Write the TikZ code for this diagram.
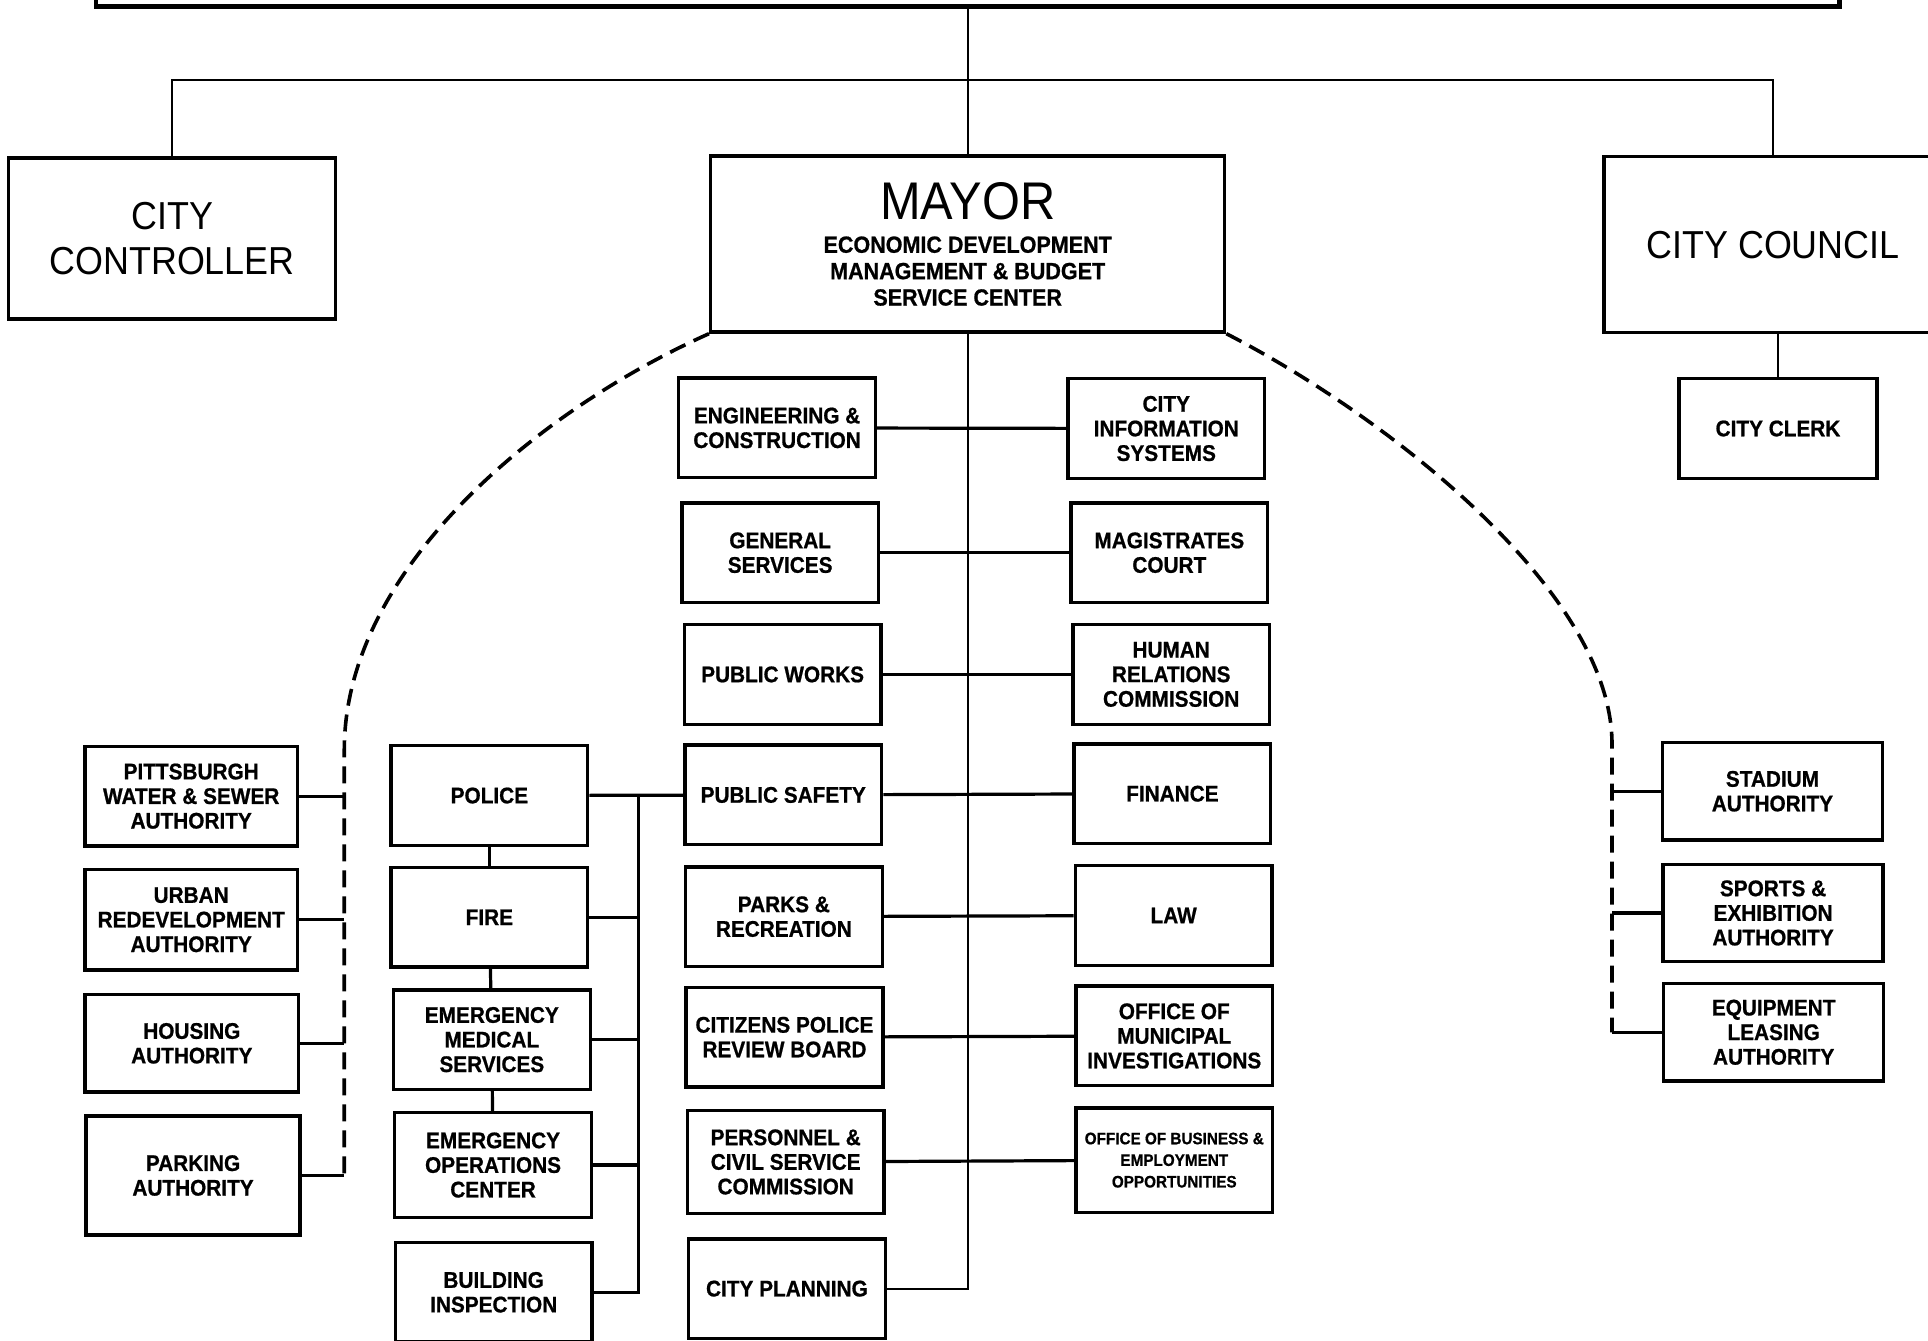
\documentclass[tikz,border=0pt]{standalone}
\usepackage{fontspec}
\setmainfont{Liberation Sans}[FakeStretch=0.92,BoldFeatures={FakeBold=0.8}]
\usetikzlibrary{positioning}
\def\px{0.6148pt}

\begin{document}
\begin{tikzpicture}[x=\px,y=-\px,
    unit/.style={draw,line width=1.7pt,align=center,inner sep=1pt,
      font=\bfseries\fontsize{11.3}{12.3}\selectfont,
      minimum width=160*\px,minimum height=81*\px},
    head/.style={draw,line width=1.7pt,align=center,
      font=\fontsize{19.5}{22.7}\selectfont},
    link/.style={line width=1.6pt},
    trunk/.style={line width=1.1pt},
    loose/.style={line width=1.8pt,dash pattern=on 8.5pt off 4.5pt}]
  \useasboundingbox (0,0) rectangle (1568,1090);

  \node[draw,line width=2.4pt,minimum width=1418*\px,minimum height=100*\px] (board) at (787,-45) {};
  \node[head,minimum width=266*\px,minimum height=131*\px] (ctrl) at (140,194) {CITY\\CONTROLLER};
  \node[head,minimum width=418*\px,minimum height=143*\px,
    font=\bfseries\fontsize{11.7}{13.2}\selectfont] (mayor) at (787,198.5)
    {{\mdseries\fontsize{26.5}{30}\selectfont MAYOR}\\[3.5pt]
     ECONOMIC DEVELOPMENT\\MANAGEMENT \& BUDGET\\SERVICE CENTER};
  \node[head,minimum width=275*\px,minimum height=143*\px] (council) at (1442,199) {CITY COUNCIL};
  \node[unit,minimum width=161*\px] (clerk) at (1446,348.5) {CITY CLERK};

  % departments under the mayor
  \node[unit] (eng) at (632,348) {ENGINEERING \&\\CONSTRUCTION};
  \node[unit] (gen) at (634.5,449.5) {GENERAL\\SERVICES};
  \node[unit] (works) at (636.5,548.5) {PUBLIC WORKS};
  \node[unit] (safety) at (637,646.5) {PUBLIC SAFETY};
  \node[unit] (parks) at (637.5,745.5) {PARKS \&\\RECREATION};
  \node[unit] (review) at (638,843.5) {CITIZENS POLICE\\REVIEW BOARD};
  \node[unit,minimum height=84*\px] (personnel) at (639,945) {PERSONNEL \&\\CIVIL SERVICE\\COMMISSION};
  \node[unit] (planning) at (640,1048) {CITY PLANNING};

  \node[unit] (cis) at (948.5,348.5) {CITY\\INFORMATION\\SYSTEMS};
  \node[unit] (court) at (951,449.5) {MAGISTRATES\\COURT};
  \node[unit] (human) at (952.5,548.5) {HUMAN\\RELATIONS\\COMMISSION};
  \node[unit] (finance) at (953.5,645.5) {FINANCE};
  \node[unit] (law) at (954.5,744.5) {LAW};
  \node[unit] (omi) at (955,842.5) {OFFICE OF\\MUNICIPAL\\INVESTIGATIONS};
  \node[unit,minimum height=85*\px,font=\bfseries\fontsize{8.3}{10.8}\selectfont] (obeo) at (955,943.5)
    {OFFICE OF BUSINESS \&\\EMPLOYMENT\\OPPORTUNITIES};

  % public safety bureaus
  \node[unit] (police) at (398,647) {POLICE};
  \node[unit] (fire) at (398,746) {FIRE};
  \node[unit] (ems) at (400,845.5) {EMERGENCY\\MEDICAL\\SERVICES};
  \node[unit,minimum height=85*\px] (eoc) at (401,947.5) {EMERGENCY\\OPERATIONS\\CENTER};
  \node[unit] (insp) at (401.5,1051) {BUILDING\\INSPECTION};

  % authorities
  \node[unit,minimum width=173*\px] (pwsa) at (155.5,647.5) {PITTSBURGH\\WATER \& SEWER\\AUTHORITY};
  \node[unit,minimum width=173*\px,minimum height=82*\px] (ura) at (155.5,748) {URBAN\\REDEVELOPMENT\\AUTHORITY};
  \node[unit,minimum width=174*\px,minimum height=79*\px] (housing) at (156,848.5) {HOUSING\\AUTHORITY};
  \node[unit,minimum width=174*\px,minimum height=97*\px] (parking) at (157,956) {PARKING\\AUTHORITY};

  \node[unit,minimum width=179*\px,minimum height=79*\px] (stadium) at (1441.5,643.5) {STADIUM\\AUTHORITY};
  \node[unit,minimum width=179*\px,minimum height=79*\px] (sports) at (1442,742.5) {SPORTS \&\\EXHIBITION\\AUTHORITY};
  \node[unit,minimum width=179*\px,minimum height=79*\px] (lease) at (1442.5,839.5) {EQUIPMENT\\LEASING\\AUTHORITY};

  \coordinate (fork) at (787,65);
  \coordinate (psbus) at (519,647);
  \coordinate (lbend) at (280,610);
  \coordinate (rbend) at (1311,605);

  \draw[trunk] (board.south) -- (mayor.north);
  \draw[trunk] (ctrl.north) |- (fork) -| (council.north);
  \draw[trunk] (clerk.north) -- (clerk.north |- council.south);
  \draw[trunk] (mayor.south) |- (planning.east);

  \path[link] (eng) edge (cis) (gen) edge (court) (works) edge (human)
    (safety) edge (finance) (parks) edge (law) (review) edge (omi)
    (personnel) edge (obeo);

  \path[link] (police) edge (safety) (police) edge (fire)
    (fire) edge (ems) (ems) edge (eoc);
  \draw[link] (psbus) |- (insp.east);
  \draw[link] (fire.east) -- (fire.east -| psbus);
  \draw[link] (ems.east) -- (ems.east -| psbus);
  \draw[link] (eoc.east) -- (eoc.east -| psbus);

  \draw[loose] (mayor.south west) .. controls (443,331) and (280,460) .. (lbend) -- (lbend |- parking.east);
  \draw[link] (pwsa.east) -- (pwsa.east -| lbend);
  \draw[link] (ura.east) -- (ura.east -| lbend);
  \draw[link] (housing.east) -- (housing.east -| lbend);
  \draw[link] (parking.east) -- (parking.east -| lbend);

  \draw[loose] (mayor.south east) .. controls (1125,337) and (1311,480) .. (rbend) -- (rbend |- lease.east);
  \draw[link] (stadium.west) -- (stadium.west -| rbend);
  \draw[link] (sports.west) -- (sports.west -| rbend);
  \draw[link] (lease.west) -- (lease.west -| rbend);
\end{tikzpicture}
\end{document}
